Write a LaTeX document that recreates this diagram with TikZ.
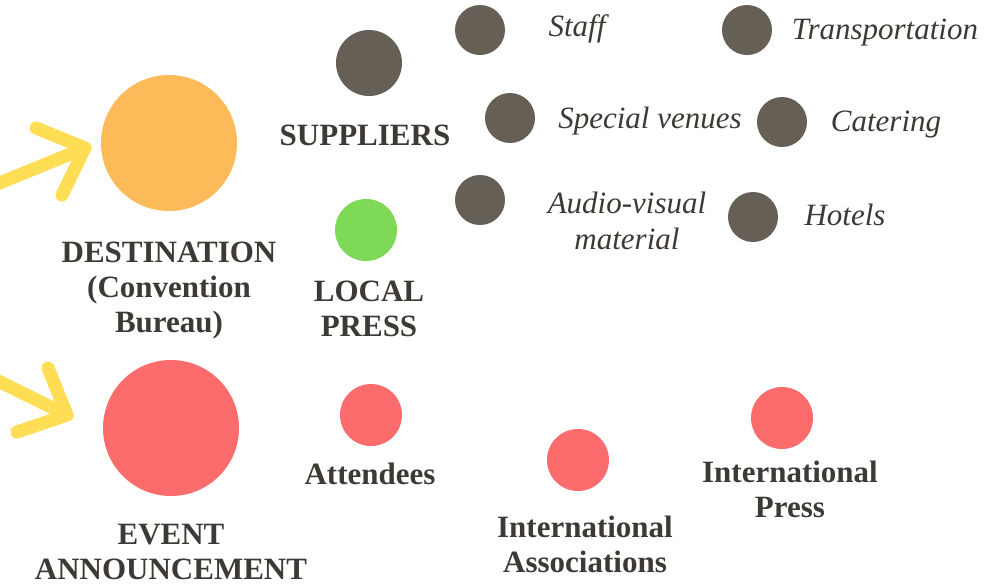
\documentclass[tikz,border=0pt]{standalone}
\usepackage{fontspec}
\setmainfont{Liberation Serif}
\definecolor{orangeC}{HTML}{FDBA58}
\definecolor{redC}{HTML}{FC6C6C}
\definecolor{darkC}{HTML}{665F55}
\definecolor{greenC}{HTML}{7ED957}
\definecolor{yellowC}{HTML}{FFDD55}
\definecolor{textC}{HTML}{3D3A35}
\tikzset{
  dot/.style={circle, inner sep=0pt, minimum size=#1, draw=none},
  bigorange/.style={dot=136pt, fill=orangeC},
  bigred/.style={dot=136pt, fill=redC},
  midred/.style={dot=62pt, fill=redC},
  middark/.style={dot=66pt, fill=darkC},
  midgreen/.style={dot=62pt, fill=greenC},
  smalldark/.style={dot=50pt, fill=darkC},
  boldlbl/.style={text=textC, font=\fontsize{31}{35}\selectfont\bfseries, align=center, inner sep=0pt},
  itlbl/.style={text=textC, font=\fontsize{31}{36}\selectfont\itshape, align=center, inner sep=0pt},
  yarrow/.style={draw=yellowC, line width=13pt, line cap=round, line join=round},
}
\begin{document}
\begin{tikzpicture}[x=1pt,y=-1pt]
\useasboundingbox (0,0) rectangle (985,584);
\clip (0,0) rectangle (985,584);
% big circles
\node[bigorange] (dest) at (169,143) {};
\node[bigred] (event) at (171,428) {};
% medium
\node[middark] (sup) at (369,63) {};
\node[midgreen] (press) at (366,230) {};
\node[midred] (att) at (371,415) {};
\node[midred] (assoc) at (578,460) {};
\node[midred] (ipress) at (782,418) {};
% small dark
\node[smalldark] (staff) at (480,30) {};
\node[smalldark] (transp) at (747,30) {};
\node[smalldark] (venues) at (510,118) {};
\node[smalldark] (cater) at (782,122) {};
\node[smalldark] (av) at (480,200) {};
\node[smalldark] (hotels) at (753,217) {};
% bold labels
\node[boldlbl] (tsup) at (365,135) {SUPPLIERS};
\node[boldlbl] (tdest) at (169,291) {DESTINATION\\(Convention\\Bureau)};
\node[boldlbl] (tpress) at (369,309) {LOCAL\\PRESS};
\node[boldlbl] (tatt) at (370,474) {Attendees};
\node[boldlbl] (tevent) at (171,552) {EVENT\\ANNOUNCEMENT};
\node[boldlbl] (tassoc) at (585,544) {International\\Associations};
\node[boldlbl] (tipress) at (790,489) {International\\Press};
% italic labels
\node[itlbl] (tstaff) at (577,29) {Staff};
\node[itlbl] (ttransp) at (885,33) {Transportation};
\node[itlbl] (tvenues) at (650,121) {Special venues};
\node[itlbl] (tcater) at (886,125) {Catering};
\node[itlbl] (tav) at (627,221) {Audio-visual\\material};
\node[itlbl] (thotels) at (845,215) {Hotels};
% arrows
\coordinate (a1s) at (-20,191);
\coordinate (a1t) at (85,148);
\coordinate (a1u) at (36,128);
\coordinate (a1d) at (62,195);
\draw[yarrow] (a1s) -- (a1t);
\draw[yarrow] (a1u) -- (a1t) -- (a1d);
\coordinate (a2s) at (-20,372);
\coordinate (a2t) at (67,415);
\coordinate (a2u) at (48,368);
\coordinate (a2d) at (17,432);
\draw[yarrow] (a2s) -- (a2t);
\draw[yarrow] (a2u) -- (a2t) -- (a2d);
\end{tikzpicture}
\end{document}
